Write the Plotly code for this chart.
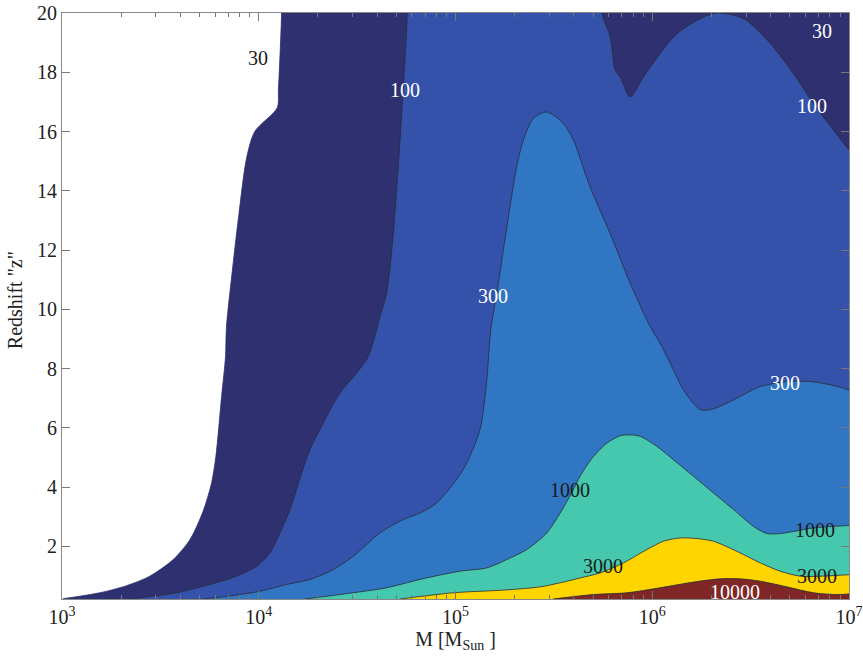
import plotly.graph_objects as go

# ---- axis extents ----
LOGM_MIN, LOGM_MAX = 3.0, 7.0
Z_MIN, Z_MAX = 0.22, 20.0

# ---- contour boundaries (log10 M, z) ----
# SNR = 30
c30_logM = [3.005, 3.192, 3.328, 3.446, 3.565, 3.650, 3.717, 3.760, 3.782, 3.811, 3.831,
            3.836, 3.870, 3.899, 3.938, 3.980, 4.094, 4.100, 4.116]
c30_z = [0.23, 0.43, 0.67, 0.99, 1.55, 2.22, 3.18, 4.13, 5.03, 7.05, 8.40,
         9.41, 11.55, 13.20, 15.10, 16.00, 16.80, 17.40, 20.0]

# SNR = 100 (left branch)
c100_logM = [3.361, 3.582, 3.751, 3.887, 3.989, 4.057, 4.108, 4.159, 4.210, 4.260, 4.328,
             4.412, 4.497, 4.556, 4.599, 4.616, 4.650, 4.684, 4.709, 4.734, 4.755]
c100_z = [0.23, 0.43, 0.71, 0.99, 1.32, 1.78, 2.45, 3.24, 4.30, 5.26, 6.16,
          7.17, 7.84, 8.40, 9.30, 9.75, 10.54, 12.56, 14.80, 17.40, 20.0]

# SNR = 100 (upper-right branch)
c100b_logM = [5.744, 5.786, 5.812, 5.837, 5.888, 5.955, 6.040, 6.125, 6.244, 6.329,
              6.464, 6.600, 6.718, 6.820, 6.922, 7.000]
c100b_z = [20.0, 19.20, 18.07, 17.84, 17.17, 17.84, 18.63, 19.30, 19.81, 20.0,
           19.81, 18.97, 17.95, 16.94, 16.04, 15.37]

# SNR = 300
c300_logM = [3.717, 3.836, 4.005, 4.141, 4.260, 4.378, 4.480, 4.616, 4.734, 4.819, 4.904,
             5.038, 5.124, 5.159, 5.179, 5.210, 5.243, 5.277, 5.311, 5.345, 5.396, 5.464,
             5.548, 5.599, 5.684, 5.786, 5.888, 5.990, 6.040, 6.091, 6.159, 6.244, 6.311,
             6.413, 6.549, 6.684, 6.803, 6.905, 7.000]
c300_z = [0.22, 0.31, 0.48, 0.71, 0.88, 1.21, 1.66, 2.45, 2.90, 3.12, 3.46,
          4.58, 5.93, 7.62, 9.30, 10.54, 12.00, 13.46, 14.81, 15.71, 16.44, 16.66,
          16.27, 15.71, 14.13, 12.56, 10.88, 9.41, 8.85, 8.18, 7.28, 6.61, 6.64,
          6.94, 7.39, 7.56, 7.56, 7.45, 7.28]

# SNR = 1000
c1000_logM = [4.235, 4.480, 4.650, 4.819, 5.023, 5.159, 5.260, 5.362, 5.464, 5.532, 5.599,
              5.633, 5.701, 5.769, 5.837, 5.888, 5.939, 6.024, 6.108, 6.210, 6.311, 6.413,
              6.515, 6.583, 6.650, 6.718, 6.820, 7.000]
c1000_z = [0.22, 0.43, 0.60, 0.88, 1.16, 1.27, 1.55, 1.89, 2.45, 3.12, 3.91,
           4.36, 5.03, 5.48, 5.73, 5.76, 5.71, 5.37, 4.92, 4.36, 3.80, 3.24,
           2.67, 2.43, 2.43, 2.50, 2.62, 2.70]

# SNR = 3000
c3000_logM = [4.718, 4.989, 5.243, 5.430, 5.566, 5.633, 5.735, 5.854, 5.973, 6.057, 6.142,
              6.227, 6.311, 6.430, 6.549, 6.650, 6.752, 6.854, 7.000]
c3000_z = [0.22, 0.43, 0.52, 0.63, 0.82, 0.93, 1.10, 1.44, 1.89, 2.17, 2.28,
           2.26, 2.17, 1.83, 1.44, 1.16, 0.99, 0.99, 1.04]

# SNR = 10000
c10000_logM = [5.497, 5.701, 5.871, 6.040, 6.210, 6.345, 6.447, 6.549, 6.684, 6.820, 6.939, 7.000]
c10000_z = [0.22, 0.37, 0.43, 0.60, 0.79, 0.90, 0.90, 0.82, 0.63, 0.43, 0.37, 0.39]

# ---- contour labels ----
lab_text = ["30", "100", "300", "1000", "3000", "10000", "30", "100", "300", "1000", "3000"]
lab_logM = [3.995, 4.743, 5.192, 5.583, 5.752, 6.420, 6.863, 6.812, 6.676, 6.829, 6.837]
lab_z = [18.47, 17.39, 10.45, 3.91, 1.35, 0.46, 19.38, 16.85, 7.51, 2.56, 0.99]
lab_color = ["#1a1a1a", "white", "white", "#1a1a1a", "#1a1a1a", "white",
             "white", "white", "white", "#1a1a1a", "#1a1a1a"]

# ---- tick labels ----
x_tick_exp = [3, 4, 5, 6, 7]
y_ticks = [2, 4, 6, 8, 10, 12, 14, 16, 18, 20]

COL = {
    30: "#2e3070",
    100: "#3552aa",
    300: "#3176c2",
    1000: "#45c8ae",
    3000: "#ffd500",
    10000: "#7e2726",
}
LINE = "#2a2a35"
FONT = "Liberation Serif"
ABOVE = Z_MAX + 1.0   # closing points beyond the top edge (clipped)


def M(lx):
    return [10 ** v for v in lx]


fig = go.Figure()


def region(xs, zs, color, line_color):
    fig.add_trace(go.Scatter(x=M(xs), y=zs, mode="lines", fill="tozeroy",
                             fillcolor=color,
                             line=dict(width=0.8, color=line_color, shape="spline",
                                       smoothing=0.8),
                             hoverinfo="skip", showlegend=False))


# region >= 30 (continues along the top edge to the right)
region(c30_logM + [c30_logM[-1], LOGM_MAX + 0.1],
       c30_z + [ABOVE, ABOVE], COL[30], COL[30])
# region >= 100
region(c100_logM + [c100_logM[-1], c100b_logM[0]] + c100b_logM,
       c100_z + [ABOVE, ABOVE] + c100b_z, COL[100], LINE)
region(c300_logM, c300_z, COL[300], LINE)
region(c1000_logM, c1000_z, COL[1000], LINE)
region(c3000_logM, c3000_z, COL[3000], LINE)
region(c10000_logM, c10000_z, COL[10000], LINE)

for t, lx, z, c in zip(lab_text, lab_logM, lab_z, lab_color):
    fig.add_annotation(x=lx, y=z, text=t, showarrow=False,
                       font=dict(family=FONT, size=20, color=c))

# y-axis title
fig.add_annotation(text='Redshift "z"', xref="paper", yref="paper", x=0, y=0.51,
                   xanchor="center", yanchor="middle", xshift=-47, textangle=-90,
                   showarrow=False, font=dict(family=FONT, size=20, color="#222"))

minor_vals = [k * 10 ** e for e in range(3, 7) for k in range(2, 10)]

fig.update_layout(
    width=863, height=663,
    margin=dict(l=62, r=14, t=13, b=64),
    paper_bgcolor="white", plot_bgcolor="white",
    font=dict(family=FONT, size=20, color="#222"),
    xaxis=dict(
        type="log", range=[LOGM_MIN, LOGM_MAX], automargin=False,
        tickmode="array", tickvals=[10 ** e for e in x_tick_exp],
        ticktext=["10<sup>%d</sup>" % e for e in x_tick_exp],
        ticks="inside", ticklen=8, tickcolor="#777", tickwidth=1,
        ticklabeloverflow="allow",
        showline=True, linecolor="#888", linewidth=1, mirror="ticks",
        showgrid=False, zeroline=False,
        minor=dict(tickmode="array", tickvals=minor_vals, ticks="inside",
                   ticklen=4, tickcolor="#777", showgrid=False),
        title=dict(text="M [M<sub>Sun</sub> ]", standoff=0,
                   font=dict(family=FONT, size=20, color="#222")),
        tickfont=dict(family=FONT, size=20, color="#222"),
    ),
    yaxis=dict(
        range=[Z_MIN, Z_MAX], automargin=False,
        tickmode="array", tickvals=y_ticks,
        ticks="inside", ticklen=8, tickcolor="#777", tickwidth=1,
        ticklabeloverflow="allow",
        showline=True, linecolor="#888", linewidth=1, mirror="ticks",
        showgrid=False, zeroline=False,
        tickfont=dict(family=FONT, size=20, color="#222"),
    ),
)

fig.write_html("out.html", config={"displayModeBar": False},
               post_script="document.body.style.margin='0';")
